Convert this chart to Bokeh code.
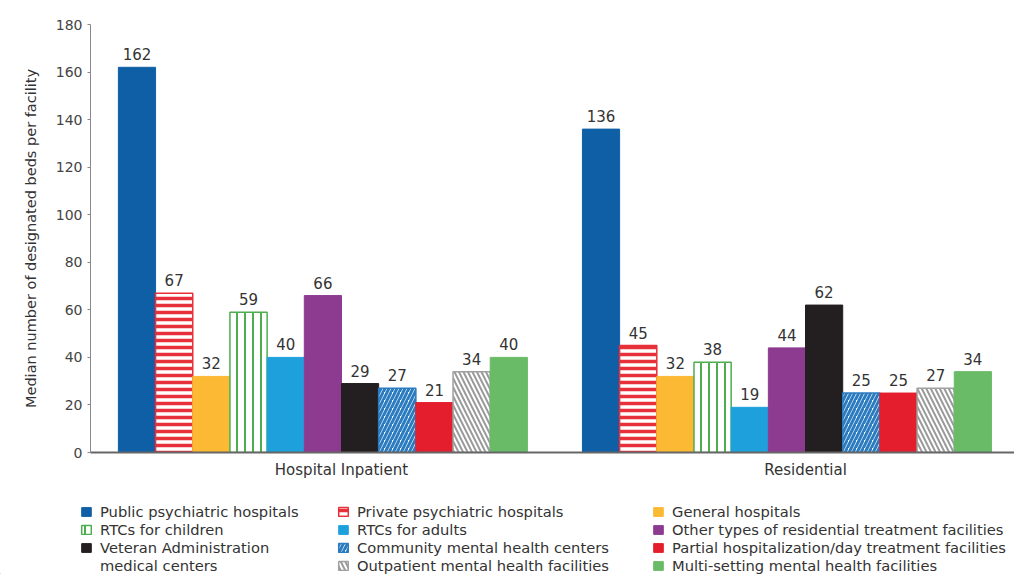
from bokeh.plotting import figure
from bokeh.models import ColumnDataSource, Range1d, FixedTicker, Legend, LegendItem
from bokeh.layouts import column
from bokeh.core.properties import value
from bokeh.embed import file_html
from bokeh.resources import INLINE

# ---------------- data ----------------
groups = ["Hospital Inpatient", "Residential"]
categories = [
    "Public psychiatric hospitals",
    "Private psychiatric hospitals",
    "General hospitals",
    "RTCs for children",
    "RTCs for adults",
    "Other types of residential treatment facilities",
    "Veteran Administration medical centers",
    "Community mental health centers",
    "Partial hospitalization/day treatment facilities",
    "Outpatient mental health facilities",
    "Multi-setting mental health facilities",
]
hospital_inpatient = [162, 67, 32, 59, 40, 66, 29, 27, 21, 34, 40]
residential = [136, 45, 32, 38, 19, 44, 62, 25, 25, 27, 34]
y_ticks = [0, 20, 40, 60, 80, 100, 120, 140, 160, 180]
y_title = "Median number of designated beds per facility"

# ---------------- styles ----------------
FONT = "DejaVu Sans"
TXT = "#333333"
styles = [
    dict(fill_color="#0f5fa6", line_color="#0f5fa6", hatch_pattern=None, hatch_color=None),
    dict(fill_color="white", line_color="#e8303a", hatch_pattern="horizontal_line", hatch_color="#e8303a", hatch_scale=7, hatch_weight=3.5),
    dict(fill_color="#fbb934", line_color="#fbb934", hatch_pattern=None, hatch_color=None),
    dict(fill_color="white", line_color="#4cae4f", hatch_pattern="vertical_line", hatch_color="#4cae4f", hatch_scale=8, hatch_weight=2),
    dict(fill_color="#1ea0dd", line_color="#1ea0dd", hatch_pattern=None, hatch_color=None),
    dict(fill_color="#8c3b91", line_color="#8c3b91", hatch_pattern=None, hatch_color=None),
    dict(fill_color="#231f20", line_color="#231f20", hatch_pattern=None, hatch_color=None),
    dict(fill_color="white", line_color="#2b7bc0", hatch_pattern="right_diagonal_line", hatch_color="#2b7bc0", hatch_scale=8, hatch_weight=3),
    dict(fill_color="#e41e2d", line_color="#e41e2d", hatch_pattern=None, hatch_color=None),
    dict(fill_color="white", line_color="#a0a0a0", hatch_pattern="left_diagonal_line", hatch_color="#9a9a9a", hatch_scale=9, hatch_weight=2),
    dict(fill_color="#69bb67", line_color="#69bb67", hatch_pattern=None, hatch_color=None),
]

def glyph_kw(st):
    kw = dict(fill_color=st["fill_color"], line_color=st["line_color"], line_width=1)
    if st["hatch_pattern"]:
        kw.update(hatch_pattern=st["hatch_pattern"], hatch_color=st["hatch_color"],
                  hatch_scale=st["hatch_scale"], hatch_weight=st["hatch_weight"], line_width=1.5)
    return kw

# ---------------- layout (in bar-slot units) ----------------
n = len(categories)
pad, gap, end_pad = 0.75, 1.48, 0.62
group_start = [pad + g * (n + gap) for g in range(len(groups))]
x_end = pad + len(groups) * n + gap + end_pad

W = 1014
p = figure(width=W, height=488, output_backend="svg", toolbar_location=None,
           x_range=Range1d(0, x_end), y_range=Range1d(0, 180),
           min_border_left=90, min_border_right=0, min_border_top=24, min_border_bottom=36)
p.xgrid.visible = False
p.ygrid.visible = False
p.outline_line_color = None

values_by_group = [hospital_inpatient, residential]
for i, cat in enumerate(categories):
    xs = [gs + i + 0.5 for gs in group_start]
    tops = [vals[i] for vals in values_by_group]
    src = ColumnDataSource(dict(x=xs, top=tops))
    p.vbar(x="x", top="top", width=1.0, bottom=0, source=src, **glyph_kw(styles[i]))

# value labels
lx, ly, lt = [], [], []
for g, vals in enumerate(values_by_group):
    for i, v in enumerate(vals):
        lx.append(group_start[g] + i + 0.5)
        ly.append(v)
        lt.append(str(v))
p.text(x=lx, y=ly, text=lt, text_align="center", text_baseline="bottom", y_offset=-7,
       text_font=value(FONT), text_font_size="15px", text_color=TXT)

# x axis
xt = [gs + 6 for gs in group_start]
p.xaxis.ticker = FixedTicker(ticks=xt)
p.xaxis.major_label_overrides = {t: g for t, g in zip(xt, groups)}
p.xaxis.major_tick_line_color = None
p.xaxis.minor_tick_line_color = None
p.xaxis.axis_line_width = 2
p.xaxis.axis_line_color = "#666666"
p.xaxis.major_label_standoff = 2
p.xaxis.major_label_text_font = FONT
p.xaxis.major_label_text_font_size = "15px"
p.xaxis.major_label_text_color = TXT

# y axis
p.yaxis.ticker = FixedTicker(ticks=y_ticks)
p.yaxis.major_tick_out = 3
p.yaxis.major_tick_in = 0
p.yaxis.minor_tick_line_color = None
p.yaxis.axis_line_color = "#888888"
p.yaxis.major_tick_line_color = "#888888"
p.yaxis.major_label_standoff = 5
p.yaxis.major_label_text_font = FONT
p.yaxis.major_label_text_font_size = "14px"
p.yaxis.major_label_text_color = "#444444"
p.yaxis.axis_label = y_title
p.yaxis.axis_label_standoff = 14
p.yaxis.axis_label_text_font = FONT
p.yaxis.axis_label_text_font_style = "normal"
p.yaxis.axis_label_text_font_size = "14.5px"
p.yaxis.axis_label_text_color = TXT

# ---------------- legend (separate strip below the chart) ----------------
lg = figure(width=W, height=86, output_backend="svg", toolbar_location=None,
            x_range=Range1d(0, 1), y_range=Range1d(0, 1),
            x_axis_type=None, y_axis_type=None,
            min_border_left=0, min_border_right=0, min_border_top=0, min_border_bottom=0)
lg.frame_align = False
lg.xgrid.visible = False
lg.ygrid.visible = False
lg.outline_line_color = None

# swatch-only renderers, kept outside the visible range
swatches = [lg.vbar(x=[-5], top=[-5], bottom=-6, width=0.1, **glyph_kw(st)) for st in styles]
blank = lg.vbar(x=[-5], top=[-5], bottom=-6, width=0.1, fill_alpha=0, line_alpha=0)
vet_lines = ["Veteran Administration", "medical centers"]

col_items = [
    [LegendItem(label=categories[0], renderers=[swatches[0]]),
     LegendItem(label=categories[3], renderers=[swatches[3]]),
     LegendItem(label=vet_lines[0], renderers=[swatches[6]]),
     LegendItem(label=vet_lines[1], renderers=[blank])],
    [LegendItem(label=categories[k], renderers=[swatches[k]]) for k in (1, 4, 7, 9)],
    [LegendItem(label=categories[k], renderers=[swatches[k]]) for k in (2, 5, 8, 10)],
]
col_x = [80, 337, 652]
for items, cx in zip(col_items, col_x):
    leg = Legend(items=items, location=(cx, 0), orientation="vertical",
                 glyph_width=12, glyph_height=11, label_standoff=8, spacing=0,
                 label_height=18, padding=0, margin=0,
                 border_line_color=None, background_fill_alpha=0,
                 label_text_font=FONT, label_text_font_size="14.7px", label_text_color=TXT)
    lg.add_layout(leg)

open("out.html", "w").write(file_html(column(p, lg, spacing=0), INLINE))
